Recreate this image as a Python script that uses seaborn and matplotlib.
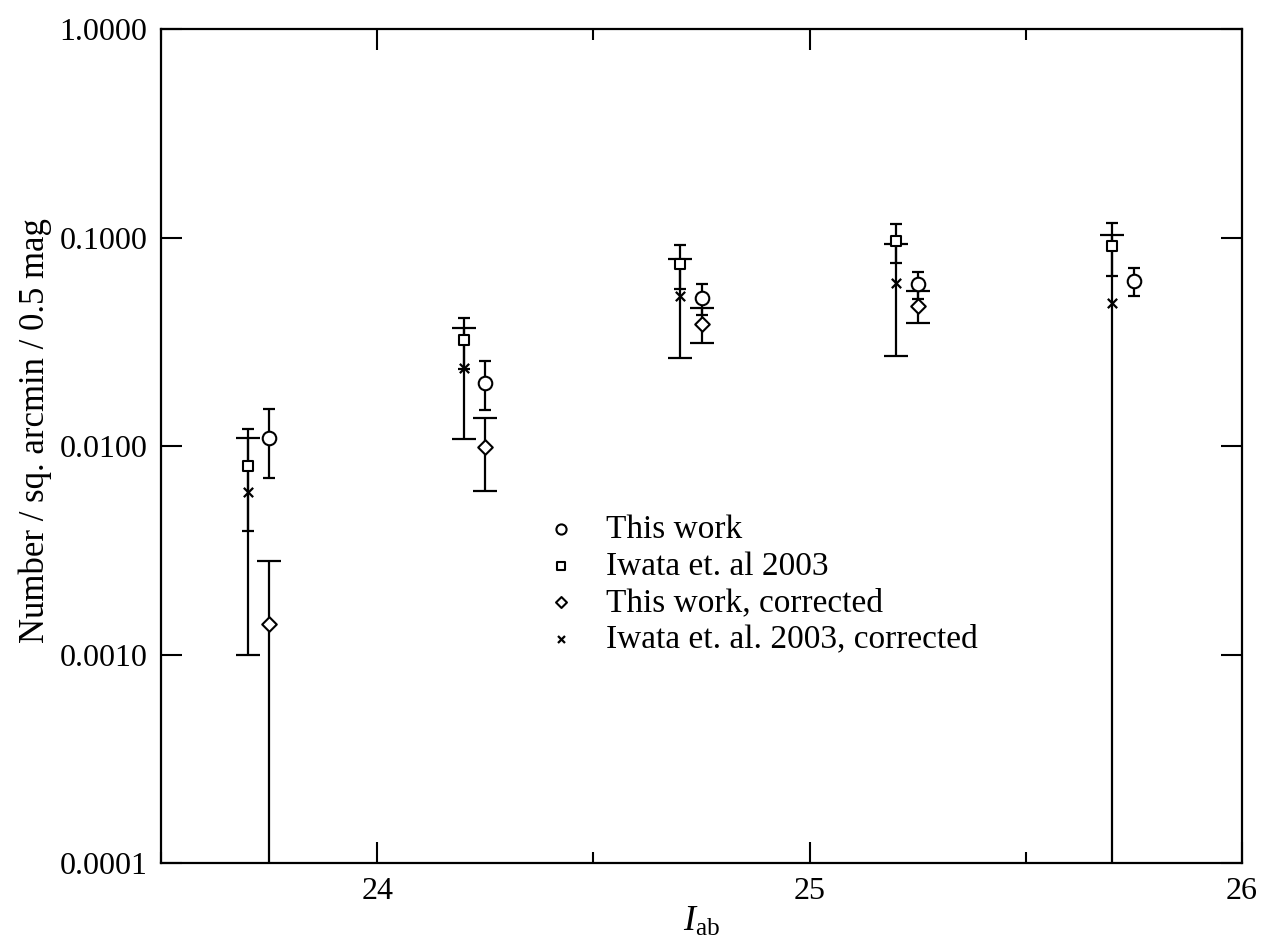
import numpy as np
import pandas as pd
import matplotlib
matplotlib.use("Agg")
import matplotlib.pyplot as plt
import matplotlib.ticker as mticker
import seaborn as sns

# ---- data ----
x_this = [23.75, 24.25, 24.75, 25.25, 25.75]
y_this = [0.0110, 0.0202, 0.0513, 0.0598, 0.0621]
e_this = [0.0040, 0.0053, 0.0085, 0.0088, 0.0093]

x_iwata = [23.70, 24.20, 24.70, 25.20, 25.70]
y_iwata = [0.0080, 0.0323, 0.0746, 0.0965, 0.0914]
e_iwata = [0.0041, 0.0088, 0.0177, 0.0205, 0.0260]

x_this_corr = [23.75, 24.25, 24.75, 25.25]
y_this_corr = [0.0014, 0.0099, 0.0385, 0.0471]
e_this_corr = [0.0014, 0.0038, 0.0074, 0.0082]

x_iwata_corr = [23.70, 24.20, 24.70, 25.20, 25.70]
y_iwata_corr = [0.0060, 0.0238, 0.0526, 0.0605, 0.0485]
e_iwata_corr = [0.0050, 0.0130, 0.0262, 0.0333, 0.0547]

labels = ["This work", "Iwata et. al 2003", "This work, corrected",
          "Iwata et. al. 2003, corrected"]
x_ticks = [24, 25, 26]
y_ticks = [0.0001, 0.001, 0.01, 0.1, 1.0]

sns.set_theme(style="ticks")
plt.rcParams["font.family"] = ["Liberation Serif", "DejaVu Serif"]
plt.rcParams["mathtext.fontset"] = "custom"
plt.rcParams["mathtext.rm"] = "Liberation Serif"
plt.rcParams["mathtext.it"] = "Liberation Serif:italic"
plt.rcParams["text.color"] = "black"
plt.rcParams["axes.labelcolor"] = "black"
plt.rcParams["xtick.color"] = "black"
plt.rcParams["ytick.color"] = "black"

fig = plt.figure(figsize=(12.65, 9.49), dpi=100)
ax = fig.add_axes([0.1273, 0.0906, 0.9818 - 0.1273, 0.9691 - 0.0906])
ax.set_yscale("log")

lw = 1.6
# error bars
ax.errorbar(x_iwata, y_iwata, yerr=e_iwata, fmt="none", ecolor="black",
            elinewidth=lw, capsize=4.5, capthick=lw)
ax.errorbar(x_iwata_corr, y_iwata_corr, yerr=e_iwata_corr, fmt="none", ecolor="black",
            elinewidth=lw, capsize=8.5, capthick=lw)
ax.errorbar(x_this, y_this, yerr=e_this, fmt="none", ecolor="black",
            elinewidth=lw, capsize=4.0, capthick=lw)
ax.errorbar(x_this_corr, y_this_corr, yerr=e_this_corr, fmt="none", ecolor="black",
            elinewidth=lw, capsize=8.5, capthick=lw)

# markers
d1 = pd.DataFrame({"x": x_this, "y": y_this})
d2 = pd.DataFrame({"x": x_iwata, "y": y_iwata})
d3 = pd.DataFrame({"x": x_this_corr, "y": y_this_corr})
d4 = pd.DataFrame({"x": x_iwata_corr, "y": y_iwata_corr})
sns.scatterplot(data=d1, x="x", y="y", marker="o", s=95, facecolor="white",
                edgecolor="black", linewidth=1.5, label=labels[0], ax=ax, zorder=5)
sns.scatterplot(data=d2, x="x", y="y", marker="s", s=55, facecolor="white",
                edgecolor="black", linewidth=1.5, label=labels[1], ax=ax, zorder=5)
sns.scatterplot(data=d3, x="x", y="y", marker="D", s=55, facecolor="white",
                edgecolor="black", linewidth=1.5, label=labels[2], ax=ax, zorder=5)
sns.scatterplot(data=d4, x="x", y="y", marker="x", s=45, color="black",
                linewidth=1.6, label=labels[3], ax=ax, zorder=5)

ax.set_xlim(23.5, 26.0)
ax.set_ylim(0.0001, 1.0)
ax.set_xticks(x_ticks)
ax.set_xticklabels([str(t) for t in x_ticks])
ax.xaxis.set_minor_locator(mticker.FixedLocator([23.5, 24.5, 25.5]))
ax.set_yticks(y_ticks)
ax.yaxis.set_major_formatter(mticker.FuncFormatter(lambda v, p: f"{v:.4f}"))
ax.yaxis.set_minor_locator(mticker.NullLocator())

ax.tick_params(which="both", direction="in", top=True, right=True,
               colors="black", labelsize=23, width=1.5)
ax.tick_params(which="major", length=15, pad=10)
ax.tick_params(which="minor", length=8)
for s in ax.spines.values():
    s.set_linewidth(1.6)
    s.set_color("black")

ax.set_xlabel(r"$I_{\mathrm{ab}}$", fontsize=26, labelpad=0)
ax.set_ylabel("Number / sq. arcmin / 0.5 mag", fontsize=25)
ax.yaxis.set_label_coords(-0.101, 0.519)

leg = ax.legend(loc="center left", bbox_to_anchor=(0.342, 0.334), frameon=False,
                fontsize=24, markerscale=0.75, handlelength=1.0, handletextpad=0.85,
                labelspacing=0.18, borderaxespad=0)
for t in leg.get_texts():
    t.set_color("black")

fig.savefig("out.png", dpi=100)
